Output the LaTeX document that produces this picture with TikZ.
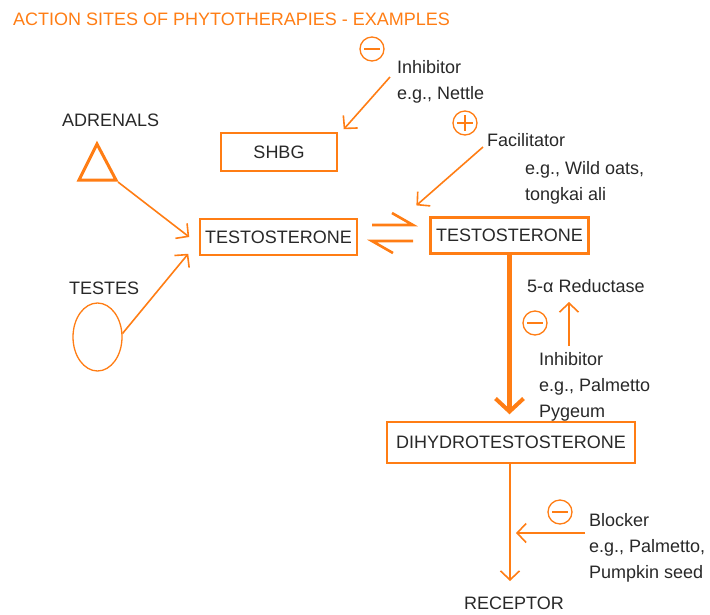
\documentclass[tikz,border=0pt]{standalone}
\usepackage{fontspec}
\setmainfont{Liberation Sans}
\usetikzlibrary{arrows.meta,shapes.geometric,calc}
\definecolor{org}{RGB}{255,125,20}
\definecolor{txt}{RGB}{40,40,40}
\begin{document}
\begin{tikzpicture}[x=1pt,y=-1pt,
  every node/.style={inner sep=0pt,text=txt,font=\fontsize{18}{26}\selectfont},
  lbl/.style={anchor=north west,align=left},
  box/.style={draw=org,line width=1.5pt,minimum width=#1,minimum height=36pt},
  sign/.style={draw=org,line width=1.3pt,circle,minimum size=24pt},
  con/.style={draw=org,line width=1.6pt,-{Straight Barb[length=9pt,width=19pt,line width=1.6pt]}},
  plain/.style={draw=org,line width=1.6pt}]
\useasboundingbox (0,0) rectangle (710,614);
% title
\node[lbl,text=org] (title) at (13,13) {ACTION SITES OF PHYTOTHERAPIES - EXAMPLES};
% boxes
\node[box=116pt,minimum height=38pt] (shbg) at (279,152) {SHBG};
\node[box=157pt] (t1) at (278.5,237) {TESTOSTERONE};
\node[box=158pt,line width=2.2pt] (t2) at (509.5,235.5) {TESTOSTERONE};
\node[box=248pt,minimum height=41pt] (dht) at (511,442.5) {DIHYDROTESTOSTERONE};
% labels
\node[lbl] (adr) at (62,114) {ADRENALS};
\node[lbl] (tes) at (69,282) {TESTES};
\node[lbl] (inh1) at (397,60) {Inhibitor\\e.g., Nettle};
\node[lbl] (fac) at (487,133) {Facilitator};
\node[lbl] (fac2) at (525,161) {e.g., Wild oats,\\tongkai ali};
\node[lbl] (red) at (527,279) {5-α Reductase};
\node[lbl] (inh2) at (539,352) {Inhibitor\\e.g., Palmetto\\Pygeum};
\node[lbl] (blk) at (589,513) {Blocker\\e.g., Palmetto,\\Pumpkin seed};
\node[lbl] (rec) at (464,597) {RECEPTOR};
% sign circles
\node[sign] (m1) at (372,49) {};
\draw[org,line width=1.3pt] ([xshift=5pt]m1.west) -- ([xshift=-5pt]m1.east);
\node[sign] (p1) at (465,123) {};
\draw[org,line width=1.3pt] ([xshift=5pt]p1.west) -- ([xshift=-5pt]p1.east)
  ([yshift=-5pt]p1.north) -- ([yshift=5pt]p1.south);
\node[sign] (m2) at (535,323) {};
\draw[org,line width=1.3pt] ([xshift=5pt]m2.west) -- ([xshift=-5pt]m2.east);
\node[sign] (m3) at (560,512) {};
\draw[org,line width=1.3pt] ([xshift=5pt]m3.west) -- ([xshift=-5pt]m3.east);
% glands
\draw[org,line width=3pt,line join=miter] (97,144) -- (116,180) -- (79,180) -- cycle;
\coordinate (adrout) at (118,182);
\node[draw=org,line width=1.3pt,ellipse,minimum width=49pt,minimum height=68pt] (testes) at (97.5,337) {};
% connectors
\coordinate (i1s) at (390,77);
\draw[con] (i1s) -- ([shift={(6pt,3pt)}]shbg.north east);
\coordinate (f1s) at (483,147);
\draw[con] (f1s) -- ([shift={(-13pt,11pt)}]t2.north west);
\draw[con] (adrout) -- ([xshift=-10pt]t1.west);
\draw[con] (testes.8) -- ([shift={(-11pt,2pt)}]t1.south west);
% equilibrium harpoons
\coordinate (e1) at (372,225);
\coordinate (e2) at (413,225);
\coordinate (e3) at (413,241);
\coordinate (e4) at (372,241);
\draw[plain,line width=2.6pt,line join=miter] (e1) -- (e2) -- ++(-21,-12);
\draw[plain,line width=2.6pt,line join=miter] (e3) -- (e4) -- ++(21,12);
% main thick arrow
\draw[draw=org,line width=5pt,-{Straight Barb[length=13pt,width=28pt,line width=4pt]}]
  (t2.south) -- ([yshift=7pt]dht.north -| t2.south);
% reductase inhibitor arrow
\coordinate (u1) at (569,346);
\coordinate (u2) at (569,302);
\draw[con] (u1) -- (u2);
% to receptor
\coordinate (rtip) at (510,581);
\draw[con] (dht.south -| rtip) -- (rtip);
\coordinate (b1) at (585,533);
\coordinate (b2) at (516,533);
\draw[con] (b1) -- (b2);
\end{tikzpicture}
\end{document}
